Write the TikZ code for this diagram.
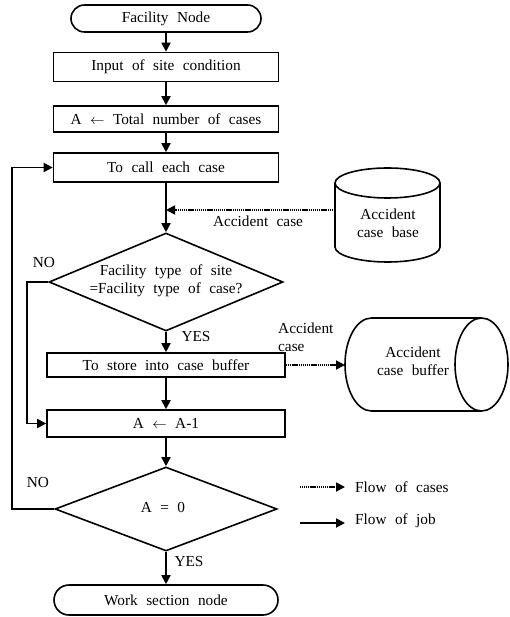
\documentclass[tikz,border=0pt]{standalone}
\usepackage{fontspec}
\setmainfont{Liberation Serif}
\usetikzlibrary{shapes.geometric,shapes.misc,arrows.meta}
\newcommand\diafont{\fontsize{15.3}{18}\selectfont\spaceskip=0.55em plus 0.1em\relax}
\begin{document}
\begin{tikzpicture}[x=1pt,y=-1pt,
  every node/.style={font=\diafont},
  proc/.style={draw, line width=1.6pt, minimum width=225pt, inner sep=0pt},
  term/.style={draw, rounded rectangle, line width=1.6pt, inner sep=0pt},
  dec/.style={draw, diamond, line width=1.6pt, inner sep=0pt},
  job/.style={line width=1.8pt, -{Triangle[length=9pt,width=9pt]}},
  cases/.style={line width=1.8pt, dash pattern=on 1.2pt off 0.7pt, -{Triangle[length=9pt,width=9pt]}},
  lbl/.style={inner sep=0pt}]
\useasboundingbox (0,0) rectangle (509,617);

% main flow nodes
\node[term, minimum width=190pt, minimum height=27pt] (start) at (166,18.5) {Facility Node};
\node[proc, minimum height=29pt] (in) at (166,67) {Input of site condition};
\node[proc, minimum height=26pt] (tot) at (166,119) {A $\leftarrow$ Total number of cases};
\node[proc, minimum height=29pt] (call) at (166,167.5) {To call each case};
\node[dec, minimum width=234pt, minimum height=98pt] (d1) at (166,282) {};
\node[align=center, lbl] (d1t) at (166,281) {Facility type of site\\=Facility type of case?};
\node[proc, minimum width=238pt, minimum height=24pt] (store) at (166,365) {To store into case buffer};
\node[proc, minimum width=238pt, minimum height=27pt] (dec) at (166,423.5) {A $\leftarrow$ A-1};
\node[dec, minimum width=222pt, minimum height=84pt] (d2) at (166,509) {};
\node[lbl] (d2t) at (163,507) {A = 0};
\node[term, minimum width=224pt, minimum height=30pt] (end) at (166,600) {Work section node};

% accident case base (cylinder)
\draw[line width=1.6pt] (335,183) -- (335,247)
  arc[start angle=180, end angle=360, x radius=52.5pt, y radius=15pt] -- (440,183);
\draw[line width=1.6pt] (387.5,183) ellipse [x radius=52.5pt, y radius=15pt];
\node[align=center, lbl] (cbt) at (388,223) {Accident\\case base};
\coordinate (cbw) at (335,210);
\coordinate (cbin) at (166,210);

% accident case buffer (horizontal cylinder)
\draw[line width=1.6pt] (481.5,318) -- (371.5,318)
  arc[start angle=90, end angle=270, x radius=26.5pt, y radius=46.5pt] -- (481.5,411);
\draw[line width=1.6pt] (481.5,364.5) ellipse [x radius=26.5pt, y radius=46.5pt];
\node[align=center, lbl] (buft) at (413,361) {Accident\\case buffer};
\coordinate (bufw) at (345,365);

% job flow
\draw[job] (start) -- (in);
\draw[job] (in) -- (tot);
\draw[job] (tot) -- (call);
\draw[job] (call) -- (d1);
\draw[job] (d1) -- (store);
\draw[job] (store) -- (dec);
\draw[job] (dec) -- (d2);
\draw[job] (d2) -- (end);
\draw[job] (d1.west) -- ++(-21,0) |- (dec.west);
\draw[job] (d2.west) -- ++(-42,0) |- (call.west);

% case flow
\draw[cases] (cbw) -- (cbin);
\draw[cases] (store.east) -- (bufw);

% labels
\node[lbl] (lac1) at (258,221) {Accident case};
\node[lbl, align=left, anchor=west] (lac2) at (278,337) {Accident\\case};
\node[lbl] (no1) at (44,263) {NO};
\node[lbl] (yes1) at (196,337) {YES};
\node[lbl] (no2) at (38,483) {NO};
\node[lbl] (yes2) at (189,562) {YES};

% legend
\coordinate (l1a) at (300,487);
\coordinate (l1b) at (345,487);
\coordinate (l2a) at (300,523);
\coordinate (l2b) at (345,523);
\draw[cases] (l1a) -- (l1b);
\draw[job] (l2a) -- (l2b);
\node[lbl, anchor=west] (leg1) at (355,487) {Flow of cases};
\node[lbl, anchor=west] (leg2) at (355,521) {Flow of job};
\end{tikzpicture}
\end{document}
